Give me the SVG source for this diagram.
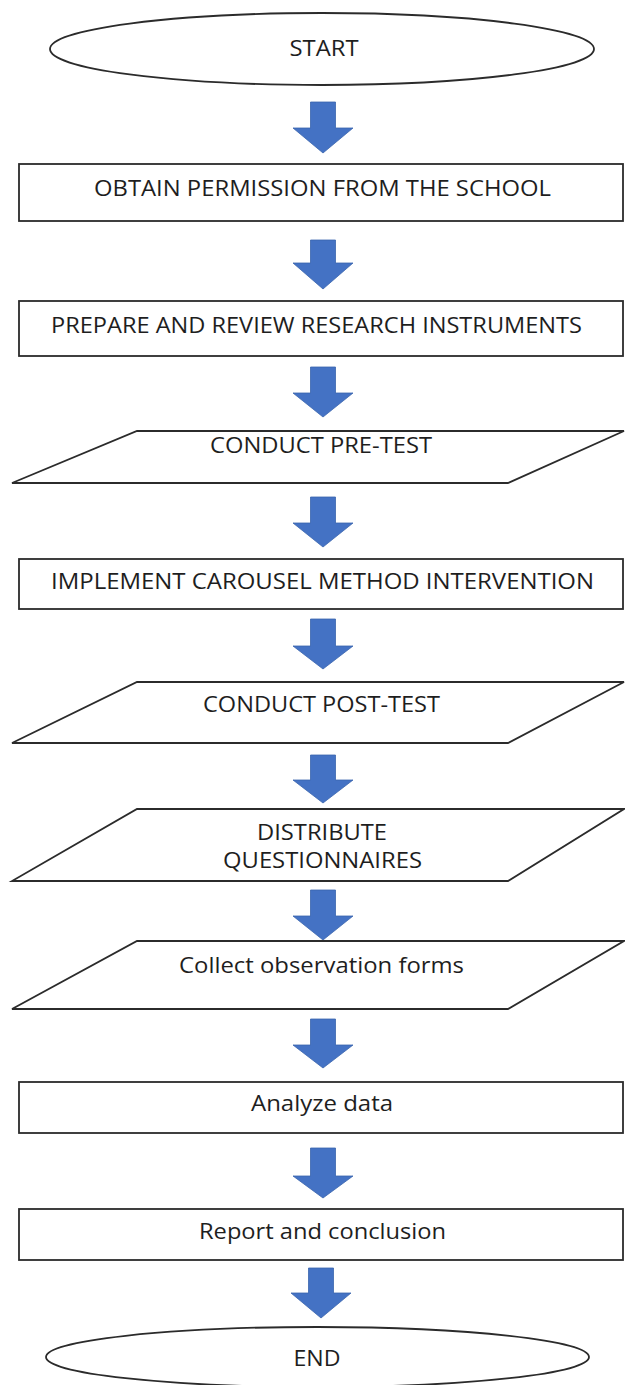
<svg xmlns="http://www.w3.org/2000/svg" width="625" height="1385" viewBox="0 0 625 1385">
<style>
.shape{fill:#ffffff;stroke:#2b2b2b;stroke-width:1.8}
.arrow{fill:#4472c4;stroke:#3a64ad;stroke-width:0.8}
.t{font-family:"Open Sans","Liberation Sans",sans-serif;font-size:21px;fill:#1e1e1e;text-anchor:middle}
</style>
<rect width="625" height="1385" fill="#ffffff"/>
<g id="connectors">
<path class="arrow" d="M310.5,102 H335.5 V128 H353 L323,153 L293,128 H310.5 Z"/>
<path class="arrow" d="M310.5,240 H335.5 V263 H353 L323,289 L293,263 H310.5 Z"/>
<path class="arrow" d="M310.5,367 H335.5 V393 H353 L323,417 L293,393 H310.5 Z"/>
<path class="arrow" d="M310.5,497 H335.5 V523 H353 L323,547 L293,523 H310.5 Z"/>
<path class="arrow" d="M310.5,619 H335.5 V646 H353 L323,669 L293,646 H310.5 Z"/>
<path class="arrow" d="M310.5,755 H335.5 V780 H353 L323,803 L293,780 H310.5 Z"/>
<path class="arrow" d="M310.5,890 H335.5 V916 H353 L323,940 L293,916 H310.5 Z"/>
<path class="arrow" d="M310.5,1019 H335.5 V1045 H353 L323,1068 L293,1045 H310.5 Z"/>
<path class="arrow" d="M310.5,1148 H335.5 V1176 H353 L323,1198 L293,1176 H310.5 Z"/>
<path class="arrow" d="M308.5,1268 H333.5 V1293 H351 L321,1318 L291,1293 H308.5 Z"/>
</g>
<g id="start">
<ellipse class="shape" cx="322" cy="49" rx="272" ry="36"/>
<text class="t" x="324" y="56" textLength="69" lengthAdjust="spacingAndGlyphs">START</text>
</g>
<g id="obtain">
<rect class="shape" x="19" y="164" width="604" height="57"/>
<text class="t" x="322.5" y="196" textLength="457" lengthAdjust="spacingAndGlyphs">OBTAIN PERMISSION FROM THE SCHOOL</text>
</g>
<g id="prepare">
<rect class="shape" x="19" y="301" width="604" height="55"/>
<text class="t" x="316.5" y="333" textLength="531" lengthAdjust="spacingAndGlyphs">PREPARE AND REVIEW RESEARCH INSTRUMENTS</text>
</g>
<g id="pretest">
<polygon class="shape" points="137,431 624,431 508,483 12,483"/>
<text class="t" x="321" y="453" textLength="222" lengthAdjust="spacingAndGlyphs">CONDUCT PRE-TEST</text>
</g>
<g id="implement">
<rect class="shape" x="19" y="559" width="604" height="50"/>
<text class="t" x="322.5" y="589" textLength="543" lengthAdjust="spacingAndGlyphs">IMPLEMENT CAROUSEL METHOD INTERVENTION</text>
</g>
<g id="posttest">
<polygon class="shape" points="137,682 624,682 508,743 12,743"/>
<text class="t" x="321.5" y="712" textLength="237" lengthAdjust="spacingAndGlyphs">CONDUCT POST-TEST</text>
</g>
<g id="distribute">
<polygon class="shape" points="137,809 624,809 508,881 12,881"/>
<text class="t" x="322" y="840" textLength="130" lengthAdjust="spacingAndGlyphs">DISTRIBUTE</text>
<text class="t" x="322.5" y="868" textLength="199" lengthAdjust="spacingAndGlyphs">QUESTIONNAIRES</text>
</g>
<g id="collect">
<polygon class="shape" points="137,941 624,941 508,1009 12,1009"/>
<text class="t" x="321.5" y="973" textLength="285" lengthAdjust="spacingAndGlyphs">Collect observation forms</text>
</g>
<g id="analyze">
<rect class="shape" x="19" y="1082" width="604" height="51"/>
<text class="t" x="322" y="1111" textLength="142" lengthAdjust="spacingAndGlyphs">Analyze data</text>
</g>
<g id="report">
<rect class="shape" x="19" y="1209" width="604" height="51"/>
<text class="t" x="322.5" y="1239" textLength="247" lengthAdjust="spacingAndGlyphs">Report and conclusion</text>
</g>
<g id="end">
<ellipse class="shape" cx="317.5" cy="1357" rx="271.5" ry="30"/>
<text class="t" x="317" y="1366" textLength="47" lengthAdjust="spacingAndGlyphs">END</text>
</g>
</svg>
